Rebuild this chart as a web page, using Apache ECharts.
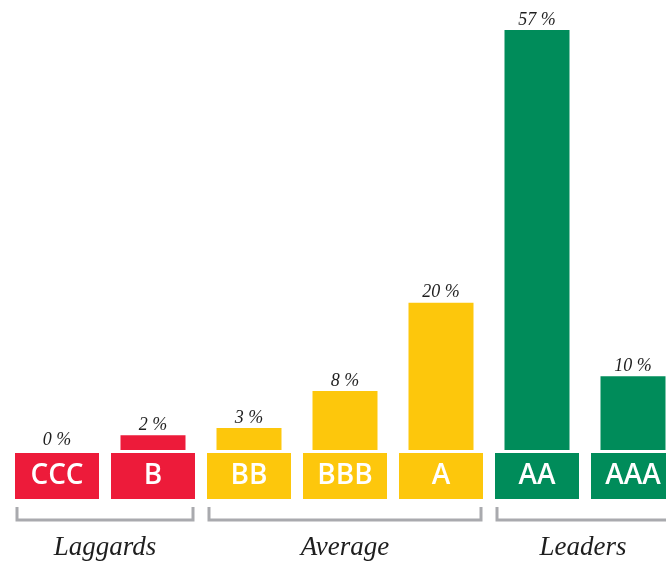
<!DOCTYPE html>
<html>
<head>
<meta charset="utf-8">
<script src="https://cdn.jsdelivr.net/npm/echarts@6/dist/echarts.min.js"></script>
<style>html,body{margin:0;padding:0;background:#fff}#c{width:666px;height:562px}</style>
</head>
<body>
<div id="c"></div>
<script>
const categories = ['CCC', 'B', 'BB', 'BBB', 'A', 'AA', 'AAA'];
const values = [0, 2, 3, 8, 20, 57, 10];
const tiers = ['r', 'r', 'y', 'y', 'y', 'g', 'g'];
const groupNames = ['Laggards', 'Average', 'Leaders'];
const groupFrom = [0, 2, 5];
const groupTo = [1, 4, 6];

const tierColor = { r: '#ED1B3A', y: '#FDC70C', g: '#008C5A' };
const boxStyle = (c) => ({
  backgroundColor: c, color: '#fff', width: 84, height: 46, lineHeight: 46,
  align: 'center', verticalAlign: 'middle', fontFamily: 'Open Sans', fontWeight: 600, fontSize: 28
});

const chart = echarts.init(document.getElementById('c'), null, { renderer: 'canvas' });
const option = {
  animation: false,
  grid: { left: 9, width: 672, top: 8, bottom: 112, containLabel: false, outerBoundsMode: 'none' },
  xAxis: {
    type: 'category', data: categories,
    axisLine: { show: false }, axisTick: { show: false },
    axisLabel: {
      margin: 3, interval: 0, hideOverlap: false,
      formatter: (v, i) => '{' + tiers[i] + '|' + v + '}',
      rich: { r: boxStyle(tierColor.r), y: boxStyle(tierColor.y), g: boxStyle(tierColor.g) }
    }
  },
  yAxis: { type: 'value', min: 0, max: 60, show: false, splitLine: { show: false } },
  series: [{
    type: 'bar', barWidth: 65,
    data: values.map((v, i) => ({ value: v, itemStyle: { color: tierColor[tiers[i]] } })),
    label: {
      show: true, position: 'top', distance: 1,
      formatter: (p) => p.value + ' %',
      fontFamily: 'Liberation Serif', fontStyle: 'italic', fontSize: 18, color: '#1e1e1e'
    }
  }]
};
chart.setOption(option);

const half = 42;
const graphics = [];
groupNames.forEach((name, k) => {
  const x1 = chart.convertToPixel({ xAxisIndex: 0 }, groupFrom[k]) - half + 2;
  const x2 = chart.convertToPixel({ xAxisIndex: 0 }, groupTo[k]) + half - 2;
  graphics.push({
    type: 'polyline', silent: true,
    shape: { points: [[x1, 507], [x1, 520], [x2, 520], [x2, 507]] },
    style: { stroke: '#A9AAAE', lineWidth: 3, fill: null }
  });
  const cx = (x1 + x2) / 2 - (k === 2 ? 2 : 0);
  graphics.push({
    type: 'text', silent: true, x: cx, y: 548,
    style: {
      text: name, fill: '#1e1e1e', font: 'italic 27px "Liberation Serif"',
      textAlign: 'center', textVerticalAlign: 'middle'
    }
  });
});
chart.setOption({ graphic: graphics });
</script>
</body>
</html>
